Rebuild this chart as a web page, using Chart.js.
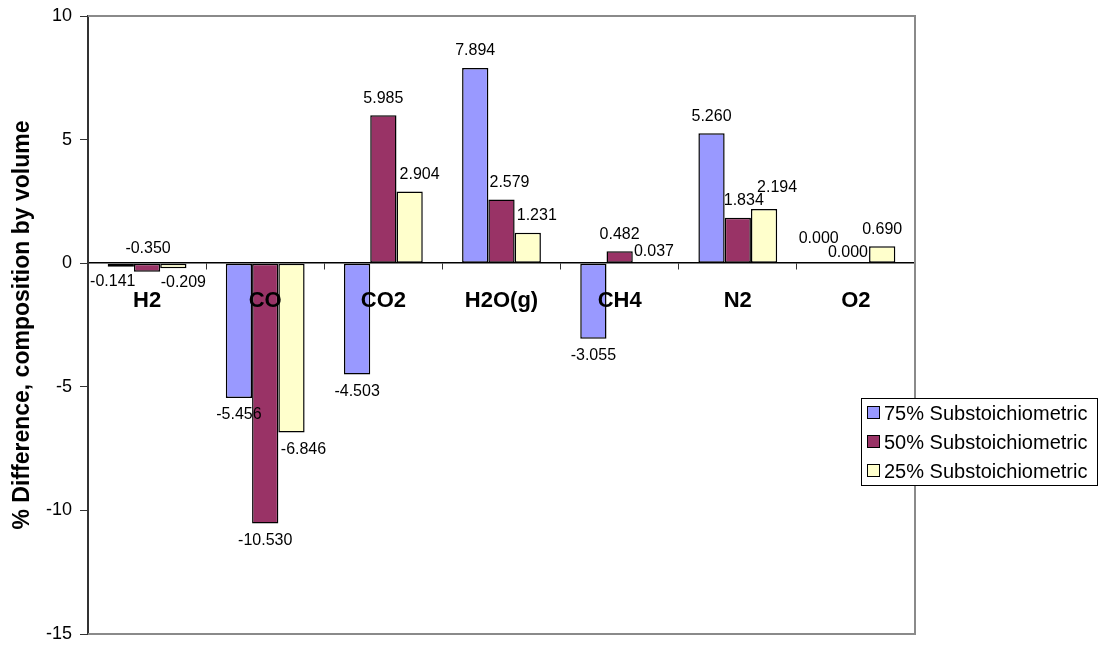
<!DOCTYPE html>
<html>
<head>
<meta charset="utf-8">
<title>% Difference, composition by volume</title>
<script src="https://cdn.jsdelivr.net/npm/chart.js@4.4.1/dist/chart.umd.min.js"></script>
<style>
  html, body { margin: 0; padding: 0; background: #fff; }
  #wrap { width: 1102px; height: 646px; position: relative; }
</style>
</head>
<body>
<div id="wrap"><canvas id="diffChart"></canvas></div>
<script>
const species = ["H2", "CO", "CO2", "H2O(g)", "CH4", "N2", "O2"];
const sub75 = [-0.141, -5.456, -4.503, 7.894, -3.055, 5.260, 0.000];
const sub50 = [-0.350, -10.530, 5.985, 2.579, 0.482, 1.834, 0.000];
const sub25 = [-0.209, -6.846, 2.904, 1.231, 0.037, 2.194, 0.690];
const yTicks = [-15, -10, -5, 0, 5, 10];

const FONT = "'Liberation Sans', Arial, sans-serif";

// label nudges [dx, dy] for the crowded ones, per dataset / category
const labelShift = [
    [[-8, -2], null, null, null, null, null, [-11, -8]],
    [[1, -40], null, null, [8, 0], null, [6, 0], [-8, 6]],
    [[10, -3], [12, 0], [10, 0], [9, 0], [8, 6], [13, -4], null]
];

/* grey frame round the plot area (left side is the value axis) */
const plotFrame = {
    id: "plotFrame",
    beforeDatasetsDraw(chart) {
        const { ctx, chartArea: a } = chart;
        ctx.save();
        ctx.strokeStyle = "#8a8a8a";
        ctx.lineWidth = 2;
        ctx.beginPath();
        ctx.moveTo(a.left, a.top);
        ctx.lineTo(a.right, a.top);
        ctx.lineTo(a.right, a.bottom);
        ctx.lineTo(a.left, a.bottom);
        ctx.stroke();
        ctx.restore();
    }
};

/* value labels at the bar ends + boxed legend on the right */
const valueLabels = {
    id: "valueLabels",
    afterDraw(chart) {
        const { ctx, chartArea: a } = chart;
        ctx.save();
        ctx.font = `16px ${FONT}`;
        ctx.fillStyle = "#000";
        ctx.textAlign = "center";
        ctx.textBaseline = "middle";
        chart.data.datasets.forEach((ds, di) => {
            chart.getDatasetMeta(di).data.forEach((bar, i) => {
                const v = ds.data[i];
                const s = labelShift[di][i] || [0, 0];
                const y = v >= 0 ? bar.y - 17 : bar.y + 17;
                ctx.fillText(v.toFixed(3), bar.x + s[0], y + s[1]);
            });
        });

        // legend
        const lx = a.right - 54, ly = 398, lw = 236, lh = 87;
        ctx.fillStyle = "#fff";
        ctx.fillRect(lx, ly, lw, lh);
        ctx.strokeStyle = "#000";
        ctx.lineWidth = 1;
        ctx.strokeRect(lx + 0.5, ly + 0.5, lw, lh);
        ctx.font = `20px ${FONT}`;
        ctx.textAlign = "left";
        chart.data.datasets.forEach((ds, di) => {
            const cy = ly + 15 + di * 29;
            ctx.fillStyle = ds.backgroundColor;
            ctx.fillRect(lx + 6.5, cy - 6.5, 12, 12);
            ctx.strokeStyle = "#000";
            ctx.strokeRect(lx + 6.5, cy - 6.5, 12, 12);
            ctx.fillStyle = "#000";
            ctx.fillText(ds.label, lx + 23, cy + 1);
        });
        ctx.restore();
    }
};

const barStyle = {
    borderColor: "#000",
    borderWidth: 1.5,
    borderSkipped: false,
    categoryPercentage: 0.667,
    barPercentage: 1.0
};

new Chart(document.getElementById("diffChart"), {
    type: "bar",
    data: {
        labels: species,
        datasets: [
            { label: "75% Substoichiometric", data: sub75, backgroundColor: "#9999FF", ...barStyle },
            { label: "50% Substoichiometric", data: sub50, backgroundColor: "#993366", ...barStyle },
            { label: "25% Substoichiometric", data: sub25, backgroundColor: "#FFFFCC", ...barStyle }
        ]
    },
    options: {
        responsive: true,
        maintainAspectRatio: false,
        animation: false,
        layout: { padding: { left: 0, top: 16, right: 187, bottom: 12 } },
        plugins: {
            legend: { display: false },
            tooltip: { enabled: false }
        },
        scales: {
            x: {
                position: { y: 0 },
                grid: {
                    offset: true,
                    drawOnChartArea: false,
                    drawTicks: true,
                    tickLength: 6,
                    color: "#333"
                },
                border: { display: true, color: "#000", width: 1.5 },
                ticks: {
                    z: 1,
                    padding: 19,
                    color: "#000",
                    font: { family: FONT, size: 22, weight: "bold" }
                }
            },
            y: {
                min: -15,
                max: 10,
                afterBuildTicks: (scale) => {
                    scale.ticks = yTicks.map(v => ({ value: v }));
                },
                afterFit: (scale) => {
                    scale.width = 88;
                    // outer padding alone sets the plot's top and bottom
                    scale.paddingTop = 0;
                    scale.paddingBottom = 0;
                },
                grid: {
                    drawOnChartArea: false,
                    drawTicks: true,
                    tickLength: 8,
                    color: "#333"
                },
                border: { display: true, color: "#333", width: 2 },
                ticks: {
                    padding: 8,
                    color: "#000",
                    font: { family: FONT, size: 18 }
                },
                title: {
                    display: true,
                    text: "% Difference, composition by volume",
                    color: "#000",
                    padding: { top: 9, bottom: 0 },
                    font: { family: FONT, size: 23, weight: "bold" }
                }
            }
        }
    },
    plugins: [plotFrame, valueLabels]
});
</script>
</body>
</html>
